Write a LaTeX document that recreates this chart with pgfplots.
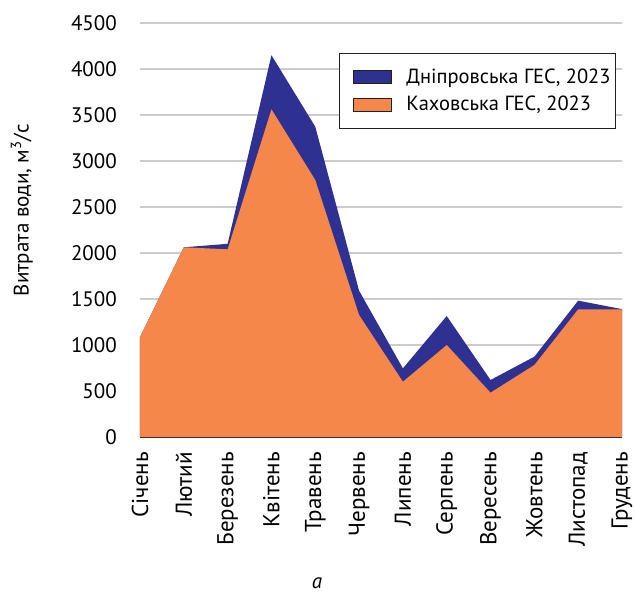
\documentclass[border=0pt]{standalone}
\usepackage{fontspec}
\setmainfont{PT Sans}
\usepackage{pgfplots}
\pgfplotsset{compat=1.18}
\definecolor{dnipro}{HTML}{2E3192}
\definecolor{kakh}{HTML}{F5874A}
\definecolor{gridc}{HTML}{CCCCCC}
\definecolor{axc}{HTML}{231F20}
\newcommand{\myfont}{\fontsize{21bp}{25bp}\selectfont}
\begin{document}
\myfont
\begin{tikzpicture}
\begin{axis}[
  name=ax,
  scale only axis,
  width=482bp, height=414bp,
  xmin=0, xmax=11, ymin=0, ymax=4500,
  ytick={0,500,...,4500},
  xtick={0,...,11},
  xticklabels={Січень,Лютий,Березень,Квітень,Травень,Червень,Липень,Серпень,Вересень,Жовтень,Листопад,Грудень},
  xticklabel style={rotate=90, anchor=east, inner sep=0pt, font=\fontsize{23bp}{27bp}\selectfont},
  xticklabel shift=15bp,
  yticklabel style={anchor=east, inner sep=0pt, font=\myfont},
  yticklabel shift=23bp,
  /pgf/number format/assume math mode=true,
  /pgf/number format/1000 sep={},
  major tick length=0pt,
  axis x line*=bottom,
  axis y line*=left,
  y axis line style={draw=none},
  x axis line style={color=axc, line width=2bp},
  ymajorgrids,
  major grid style={color=gridc, line width=1.5bp},
  ylabel={Витрата води, м\textsuperscript{3}/с},
  ylabel style={at={(axis description cs:-0.245,0.548)}, anchor=center, font=\myfont},
  legend style={at={(axis description cs:1,0.9275)}, anchor=north east, xshift=-6bp,
    draw=axc, line width=0.8bp, inner xsep=3bp, inner ysep=13bp,
    row sep=6bp, font=\fontsize{20.5bp}{24bp}\selectfont},
  legend cell align=left,
  legend image code/.code={\draw[#1, draw=axc, line width=0.8bp] (0bp,-6.5bp) rectangle (38bp,7bp); \path (-11bp,0bp) (51bp,0bp);},
]
\addplot[fill=dnipro, draw=none] coordinates {
(0,1085) (1,2062) (2,2100) (3,4150) (4,3373) (5,1590) (6,746) (7,1315) (8,620) (9,873) (10,1482) (11,1390)
} \closedcycle;
\addlegendentry{Дніпровська ГЕС, 2023\hspace{10bp}}
\addplot[fill=kakh, draw=none] coordinates {
(0,1085) (1,2062) (2,2040) (3,3562) (4,2794) (5,1326) (6,601) (7,1000) (8,482) (9,783) (10,1388) (11,1388)
} \closedcycle;
\addlegendentry{Каховська ГЕС, 2023}
\end{axis}
\node[font=\itshape\myfont, anchor=center] at ([xshift=177bp,yshift=-146bp]ax.south west) {а};
\pgfresetboundingbox
\path[use as bounding box] ([xshift=-140bp,yshift=-158bp]ax.south west) rectangle ([xshift=13bp,yshift=23bp]ax.north east);
\end{tikzpicture}
\end{document}
